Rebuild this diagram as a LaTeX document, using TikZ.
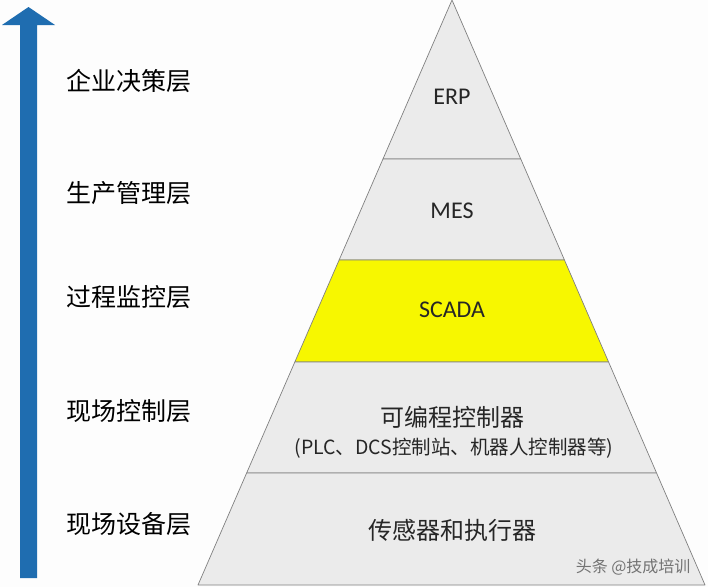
\documentclass[tikz,border=0pt]{standalone}
\usepackage{fontspec}
\setmainfont{Carlito}
\newfontfamily\cjk{Noto Sans CJK SC}
\usetikzlibrary{calc}
\definecolor{layergray}{HTML}{EBEBEB}
\definecolor{edgegray}{HTML}{808080}
\definecolor{arrowblue}{HTML}{1F6DB0}
\definecolor{scadayellow}{HTML}{F7F700}
\definecolor{bgwhite}{HTML}{FDFDFD}
\tikzset{
  layer/.style={fill=layergray, draw=edgegray, line width=0.7pt, line join=round},
  latinlbl/.style={font=\fontsize{24}{27}\selectfont, text=black!85},
  cjklbl/.style={font=\cjk\fontsize{24}{28}\selectfont, text=black!85},
  cjksmall/.style={font=\cjk\fontsize{19.5}{23}\selectfont, text=black!85},
  sidelbl/.style={font=\cjk\fontsize{25}{29}\selectfont, text=black, anchor=west},
  wmark/.style={font=\cjk\fontsize{16}{18}\selectfont, text=black!55}
}
\begin{document}
\begin{tikzpicture}[x=1pt,y=-1pt]
\fill[bgwhite] (0,0) rectangle (708,587);
\useasboundingbox (0,0) rectangle (708,587);
% pyramid corners
\coordinate (apex) at (452,0);
\coordinate (bl) at (198,585);
\coordinate (br) at (705,585);
% boundary points
\foreach \n/\t in {a/0.2718,b/0.4444,c/0.6188,d/0.8085}{
  \coordinate (L\n) at ($(apex)!\t!(bl)$);
  \coordinate (R\n) at ($(apex)!\t!(br)$);
}
% layers
\draw[layer] (apex) -- (Ra) -- (La) -- cycle;
\draw[layer] (La) -- (Ra) -- (Rb) -- (Lb) -- cycle;
\draw[layer, fill=scadayellow] (Lb) -- (Rb) -- (Rc) -- (Lc) -- cycle;
\draw[layer] (Lc) -- (Rc) -- (Rd) -- (Ld) -- cycle;
\draw[layer] (Ld) -- (Rd) -- (br) -- (bl) -- cycle;
% layer texts
\node[latinlbl] (erp) at (452,97) {ERP};
\node[latinlbl] (mes) at (452,211) {MES};
\node[latinlbl] (scada) at (452,310) {SCADA};
\node[cjklbl] (plc) at (452,417) {可编程控制器};
\node[cjksmall] (plcsub) at (454,448) {(PLC、DCS控制站、机器人控制器等)};
\node[cjklbl] (sensor) at (452,530) {传感器和执行器};
\node[wmark, anchor=east] (wm) at (694,567) {头条 @技成培训};
% side labels
\node[sidelbl] (l1) at (63,81) {企业决策层};
\node[sidelbl] (l2) at (63,193) {生产管理层};
\node[sidelbl] (l3) at (63,297) {过程监控层};
\node[sidelbl] (l4) at (63,411) {现场控制层};
\node[sidelbl] (l5) at (63,524) {现场设备层};
% arrow
\fill[arrowblue] (20,578) -- (20,25) -- (2,25) -- (28.5,7) -- (55,25) -- (37,25) -- (37,578) -- cycle;
\end{tikzpicture}
\end{document}
